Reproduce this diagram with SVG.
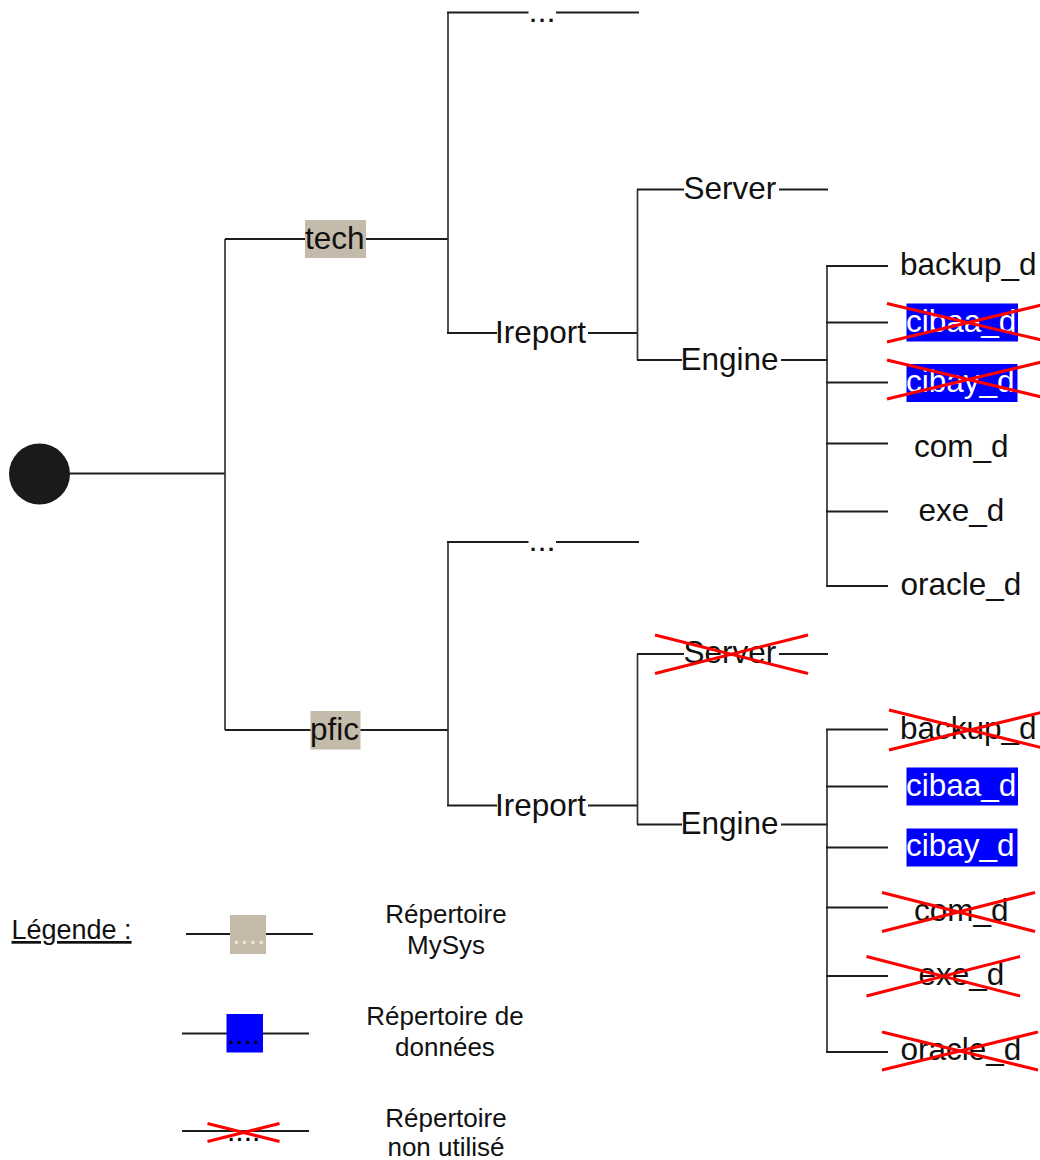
<svg xmlns="http://www.w3.org/2000/svg" width="1040" height="1160" viewBox="0 0 1040 1160">
<style>
.c{stroke:#1e1e1e;stroke-width:2;fill:none}
.v{stroke:#333;stroke-width:1.7;fill:none}
.t{font-family:"Liberation Sans",Arial,sans-serif;font-size:31.5px;fill:#111}
.w{font-family:"Liberation Sans",Arial,sans-serif;font-size:31.5px;fill:#fff}
.lg{font-family:"Liberation Sans",Arial,sans-serif;font-size:26px;fill:#111}
.ell{font-family:"Liberation Sans",Arial,sans-serif;font-size:22px;font-weight:bold;letter-spacing:2.9px;fill:#111}
.x{stroke:#ff0000;stroke-width:3;fill:none}
.beige{fill:#c4bbaa}
.blue{fill:#0000ff}
.dots{font-family:"Liberation Sans",Arial,sans-serif;font-size:30px}
</style>
<rect width="1040" height="1160" fill="#fff"/>
<g id="connectors">
<line class="c" x1="70" y1="473.5" x2="225" y2="473.5"/>
<line class="v" x1="225" y1="239" x2="225" y2="730"/>
<line class="c" x1="225" y1="239" x2="305" y2="239"/>
<line class="c" x1="366" y1="239" x2="448" y2="239"/>
<line class="c" x1="225" y1="730" x2="311" y2="730"/>
<line class="c" x1="360" y1="730" x2="448" y2="730"/>
<line class="v" x1="448" y1="12.5" x2="448" y2="333"/>
<line class="c" x1="447" y1="12.5" x2="528.5" y2="12.5"/>
<line class="c" x1="556" y1="12.5" x2="639" y2="12.5"/>
<line class="c" x1="447" y1="333" x2="497" y2="333"/>
<line class="c" x1="588" y1="333" x2="637.5" y2="333"/>
<line class="v" x1="637.5" y1="189.5" x2="637.5" y2="360"/>
<line class="c" x1="637" y1="189.5" x2="684" y2="189.5"/>
<line class="c" x1="779" y1="189.5" x2="828" y2="189.5"/>
<line class="c" x1="637" y1="360" x2="682" y2="360"/>
<line class="c" x1="781" y1="360" x2="828" y2="360"/>
<line class="v" x1="827" y1="266" x2="827" y2="586"/>
<line class="c" x1="826" y1="266" x2="888" y2="266"/>
<line class="c" x1="826" y1="322.5" x2="888" y2="322.5"/>
<line class="c" x1="826" y1="382.5" x2="888" y2="382.5"/>
<line class="c" x1="826" y1="443.5" x2="888" y2="443.5"/>
<line class="c" x1="826" y1="511.5" x2="888" y2="511.5"/>
<line class="c" x1="826" y1="586" x2="888" y2="586"/>
<line class="v" x1="448" y1="542" x2="448" y2="805.5"/>
<line class="c" x1="447" y1="542" x2="528.5" y2="542"/>
<line class="c" x1="556" y1="542" x2="639" y2="542"/>
<line class="c" x1="447" y1="805.5" x2="497" y2="805.5"/>
<line class="c" x1="588" y1="805.5" x2="637.5" y2="805.5"/>
<line class="v" x1="637.5" y1="654" x2="637.5" y2="824.5"/>
<line class="c" x1="637" y1="654" x2="684" y2="654"/>
<line class="c" x1="779" y1="654" x2="828" y2="654"/>
<line class="c" x1="637" y1="824.5" x2="682" y2="824.5"/>
<line class="c" x1="781" y1="824.5" x2="828" y2="824.5"/>
<line class="v" x1="827" y1="729.5" x2="827" y2="1052"/>
<line class="c" x1="826" y1="729.5" x2="888" y2="729.5"/>
<line class="c" x1="826" y1="786.5" x2="888" y2="786.5"/>
<line class="c" x1="826" y1="847.5" x2="888" y2="847.5"/>
<line class="c" x1="826" y1="907.5" x2="888" y2="907.5"/>
<line class="c" x1="826" y1="976" x2="888" y2="976"/>
<line class="c" x1="826" y1="1052" x2="888" y2="1052"/>
</g>
<g id="root"><circle cx="39.5" cy="474" r="30.5" fill="#1a1a1a"/></g>
<g id="tech"><rect class="beige" x="305" y="220" width="61" height="38"/><text class="t" x="305" y="248.5">tech</text></g>
<g id="tech-more"><text class="ell" x="530" y="21.5">...</text></g>
<g id="tech-ireport"><text class="t" x="495" y="343">Ireport</text></g>
<g id="tech-server"><text class="t" x="683.5" y="198.5">Server</text></g>
<g id="tech-engine"><text class="t" x="680.5" y="369.5">Engine</text></g>
<g id="tech-backup_d"><text class="t" x="900" y="275">backup_d</text></g>
<g id="tech-cibaa_d"><rect class="blue" x="906.5" y="303.5" width="111.5" height="38"/><text class="w" x="906" y="331.5">cibaa_d</text><line class="x" x1="887" y1="303.5" x2="1050" y2="342"/><line class="x" x1="887" y1="342" x2="1050" y2="303"/></g>
<g id="tech-cibay_d"><rect class="blue" x="906.5" y="364" width="111" height="38"/><text class="w" x="906" y="392">cibay_d</text><line class="x" x1="887" y1="360" x2="1050" y2="399"/><line class="x" x1="887" y1="399" x2="1050" y2="360"/></g>
<g id="tech-com_d"><text class="t" x="914" y="456.5">com_d</text></g>
<g id="tech-exe_d"><text class="t" x="918.5" y="520.5">exe_d</text></g>
<g id="tech-oracle_d"><text class="t" x="900.5" y="595">oracle_d</text></g>
<g id="pfic"><rect class="beige" x="310.5" y="711" width="50" height="38.5"/><text class="t" x="310" y="739.5">pfic</text></g>
<g id="pfic-more"><text class="ell" x="530" y="551">...</text></g>
<g id="pfic-ireport"><text class="t" x="495" y="815.5">Ireport</text></g>
<g id="pfic-server"><text class="t" x="683.5" y="663">Server</text><line class="x" x1="655" y1="635" x2="808" y2="673.5"/><line class="x" x1="655" y1="673.5" x2="808" y2="635"/></g>
<g id="pfic-engine"><text class="t" x="680.5" y="833.5">Engine</text></g>
<g id="pfic-backup_d"><text class="t" x="900" y="738.5">backup_d</text><line class="x" x1="889" y1="710" x2="1051" y2="750"/><line class="x" x1="889" y1="750" x2="1051" y2="710"/></g>
<g id="pfic-cibaa_d"><rect class="blue" x="906.5" y="767.5" width="111.5" height="38"/><text class="w" x="906" y="795.5">cibaa_d</text></g>
<g id="pfic-cibay_d"><rect class="blue" x="906.5" y="828.5" width="111" height="38"/><text class="w" x="906" y="856">cibay_d</text></g>
<g id="pfic-com_d"><text class="t" x="914" y="920.5">com_d</text><line class="x" x1="882" y1="892.5" x2="1035" y2="931.5"/><line class="x" x1="882" y1="931.5" x2="1035" y2="892.5"/></g>
<g id="pfic-exe_d"><text class="t" x="918.5" y="984.5">exe_d</text><line class="x" x1="866.5" y1="956.5" x2="1020" y2="996"/><line class="x" x1="866.5" y1="996" x2="1020" y2="956.5"/></g>
<g id="pfic-oracle_d"><text class="t" x="900.5" y="1059.5">oracle_d</text><line class="x" x1="882" y1="1070" x2="1038" y2="1032"/><line class="x" x1="882" y1="1032" x2="1038" y2="1070"/></g>
<g id="legend">
<text class="lg" x="11.5" y="939" style="font-size:27px" text-decoration="underline">Légende :</text>
<line class="c" x1="186" y1="934" x2="313" y2="934"/>
<rect class="beige" x="230" y="915" width="36" height="39"/>
<text class="dots" x="232" y="943.5" fill="#ece8dc">....</text>
<text class="lg" x="446" y="922.5" text-anchor="middle">Répertoire</text>
<text class="lg" x="446" y="954" text-anchor="middle">MySys</text>
<line class="c" x1="182" y1="1033.5" x2="309" y2="1033.5"/>
<rect class="blue" x="226.5" y="1014" width="36.5" height="38.5"/>
<text class="dots" x="227" y="1043.5" fill="#000">....</text>
<text class="lg" x="445" y="1025" text-anchor="middle">Répertoire de</text>
<text class="lg" x="445" y="1056" text-anchor="middle">données</text>
<line class="c" x1="182" y1="1131" x2="309" y2="1131"/>
<text class="dots" x="227" y="1140.5" fill="#000">....</text>
<line class="x" x1="207.5" y1="1123.5" x2="279.5" y2="1141.5"/>
<line class="x" x1="207.5" y1="1141.5" x2="279.5" y2="1123.5"/>
<text class="lg" x="446" y="1127" text-anchor="middle">Répertoire</text>
<text class="lg" x="446" y="1156" text-anchor="middle">non utilisé</text>
</g>
</svg>
